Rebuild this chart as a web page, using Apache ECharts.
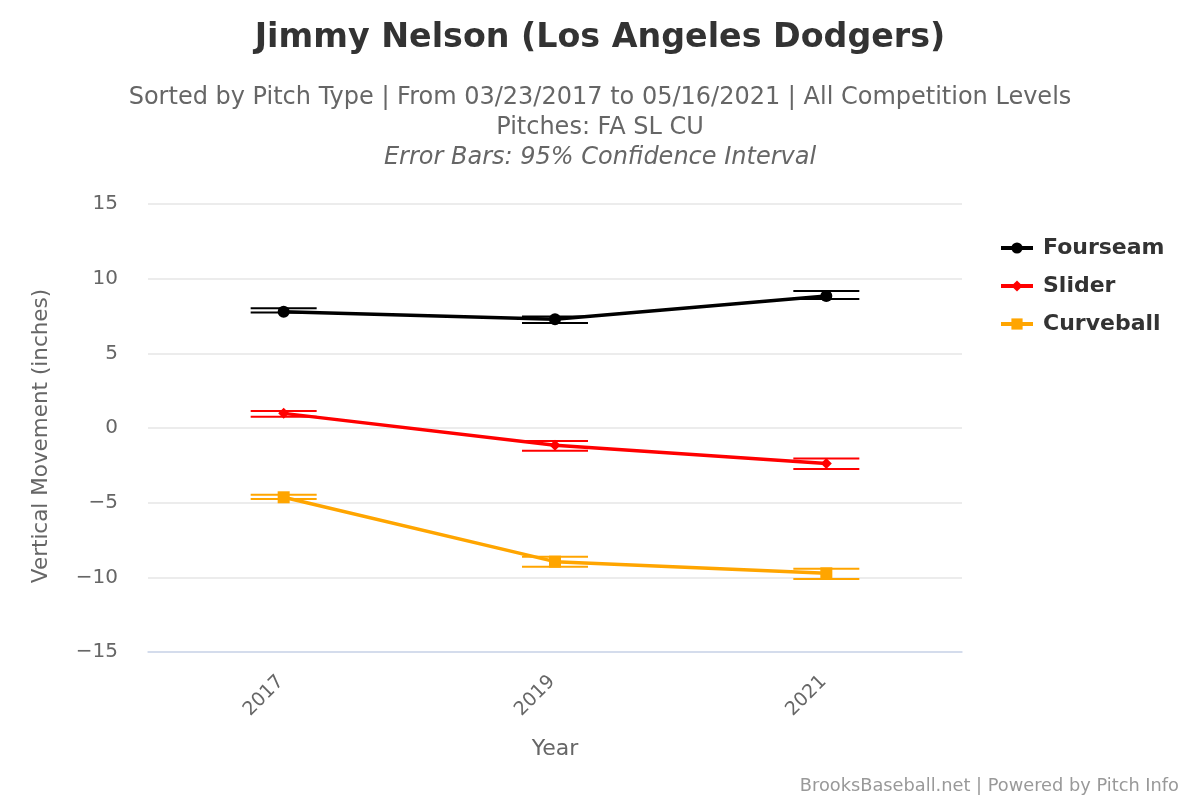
<!DOCTYPE html>
<html>
<head>
<meta charset="utf-8">
<script src="https://cdn.jsdelivr.net/npm/echarts@6/dist/echarts.min.js"></script>
<style>html,body{margin:0;padding:0;background:#fff}#c{width:1200px;height:800px}</style>
</head>
<body>
<div id="c"></div>
<script>
const years = ['2017', '2019', '2021'];
const fourseam = [7.78, 7.28, 8.84];
const fourseamLow = [7.73, 7.03, 8.64];
const fourseamHigh = [8.02, 7.46, 9.18];
const slider = [0.98, -1.16, -2.37];
const sliderLow = [0.76, -1.52, -2.75];
const sliderHigh = [1.14, -0.87, -2.05];
const curveball = [-4.64, -8.95, -9.73];
const curveballLow = [-4.76, -9.29, -10.11];
const curveballHigh = [-4.47, -8.62, -9.42];
const yTicks = [-15, -10, -5, 0, 5, 10, 15];

const FONT = 'DejaVu Sans';

function errData(lo, hi) {
  return years.map((y, i) => [i, lo[i], hi[i]]);
}
function errSeries(name, color, lo, hi) {
  return {
    type: 'custom',
    name: name + ' error',
    z: 1,
    silent: true,
    data: errData(lo, hi),
    encode: { x: 0, y: [1, 2] },
    renderItem: function (params, api) {
      const i = api.value(0);
      const pLo = api.coord([i, api.value(1)]);
      const pHi = api.coord([i, api.value(2)]);
      const half = 33;
      const style = { stroke: color, lineWidth: 2, fill: null };
      return {
        type: 'group',
        children: [
          { type: 'line', shape: { x1: pLo[0] - half, y1: pLo[1], x2: pLo[0] + half, y2: pLo[1] }, style: style },
          { type: 'line', shape: { x1: pHi[0] - half, y1: pHi[1], x2: pHi[0] + half, y2: pHi[1] }, style: style }
        ]
      };
    }
  };
}
function lineSeries(name, color, data, symbol, size) {
  return {
    type: 'line', name: name, data: data, z: 3,
    symbol: symbol, symbolSize: size,
    lineStyle: { color: color, width: 3.5 },
    itemStyle: { color: color },
    emphasis: { disabled: true }
  };
}

const chart = echarts.init(document.getElementById('c'));
chart.setOption({
  animation: false,
  backgroundColor: '#ffffff',
  textStyle: { fontFamily: FONT },
  title: [
    { text: 'Jimmy Nelson (Los Angeles Dodgers)', left: 'center', top: 17,
      textStyle: { fontFamily: FONT, fontSize: 33.3, fontWeight: 'bold', color: '#333333' } },
    { text: 'Sorted by Pitch Type | From 03/23/2017 to 05/16/2021 | All Competition Levels', left: 'center', top: 81,
      textStyle: { fontFamily: FONT, fontSize: 24, fontWeight: 'normal', color: '#666666' } },
    { text: 'Pitches: FA SL CU', left: 'center', top: 111,
      textStyle: { fontFamily: FONT, fontSize: 24, fontWeight: 'normal', color: '#666666' } },
    { text: 'Error Bars: 95% Confidence Interval', left: 'center', top: 141,
      textStyle: { fontFamily: FONT, fontSize: 24, fontWeight: 'normal', fontStyle: 'italic', color: '#666666' } },
    { text: 'BrooksBaseball.net | Powered by Pitch Info', right: 16, top: 772,
      textStyle: { fontFamily: FONT, fontSize: 17.8, fontWeight: 'normal', color: '#999999' } }
  ],
  legend: {
    orient: 'vertical', left: 994, top: 232, itemGap: 16,
    itemWidth: 32, itemHeight: 14,
    data: ['Fourseam', 'Slider', 'Curveball'],
    lineStyle: { width: 4 },
    textStyle: { fontFamily: FONT, fontSize: 22, fontWeight: 'bold', color: '#333333', padding: [0, 0, 0, 5] }
  },
  grid: { left: 148, right: 238, top: 204, bottom: 148 },
  xAxis: {
    type: 'category', data: years, boundaryGap: true,
    name: 'Year', nameLocation: 'middle', nameGap: 86,
    nameTextStyle: { fontFamily: FONT, fontSize: 22, color: '#666666' },
    axisLine: { onZero: false, lineStyle: { color: '#ccd6eb', width: 1.5 } },
    axisTick: { show: false },
    axisLabel: { rotate: 45, fontFamily: FONT, fontSize: 19, color: '#666666', margin: 24, padding: [0, 4, 0, 0] },
    splitLine: { show: false }
  },
  yAxis: {
    type: 'value', min: yTicks[0], max: yTicks[yTicks.length - 1], interval: 5,
    name: 'Vertical Movement (inches)', nameLocation: 'middle', nameGap: 96,
    nameTextStyle: { fontFamily: FONT, fontSize: 21.5, color: '#666666', padding: [0, 16, 0, 0] },
    axisLine: { show: false }, axisTick: { show: false },
    axisLabel: { fontFamily: FONT, fontSize: 20, color: '#666666', margin: 30,
      formatter: v => (v < 0 ? '\u2212' + Math.abs(v) : String(v)) },
    splitLine: { lineStyle: { color: '#e6e6e6', width: 1.5 } }
  },
  series: [
    errSeries('Fourseam', '#000000', fourseamLow, fourseamHigh),
    errSeries('Slider', '#ff0000', sliderLow, sliderHigh),
    errSeries('Curveball', '#ffa500', curveballLow, curveballHigh),
    lineSeries('Fourseam', '#000000', fourseam, 'circle', 12),
    lineSeries('Slider', '#ff0000', slider, 'diamond', 11),
    lineSeries('Curveball', '#ffa500', curveball, 'rect', 12)
  ]
});
</script>
</body>
</html>
